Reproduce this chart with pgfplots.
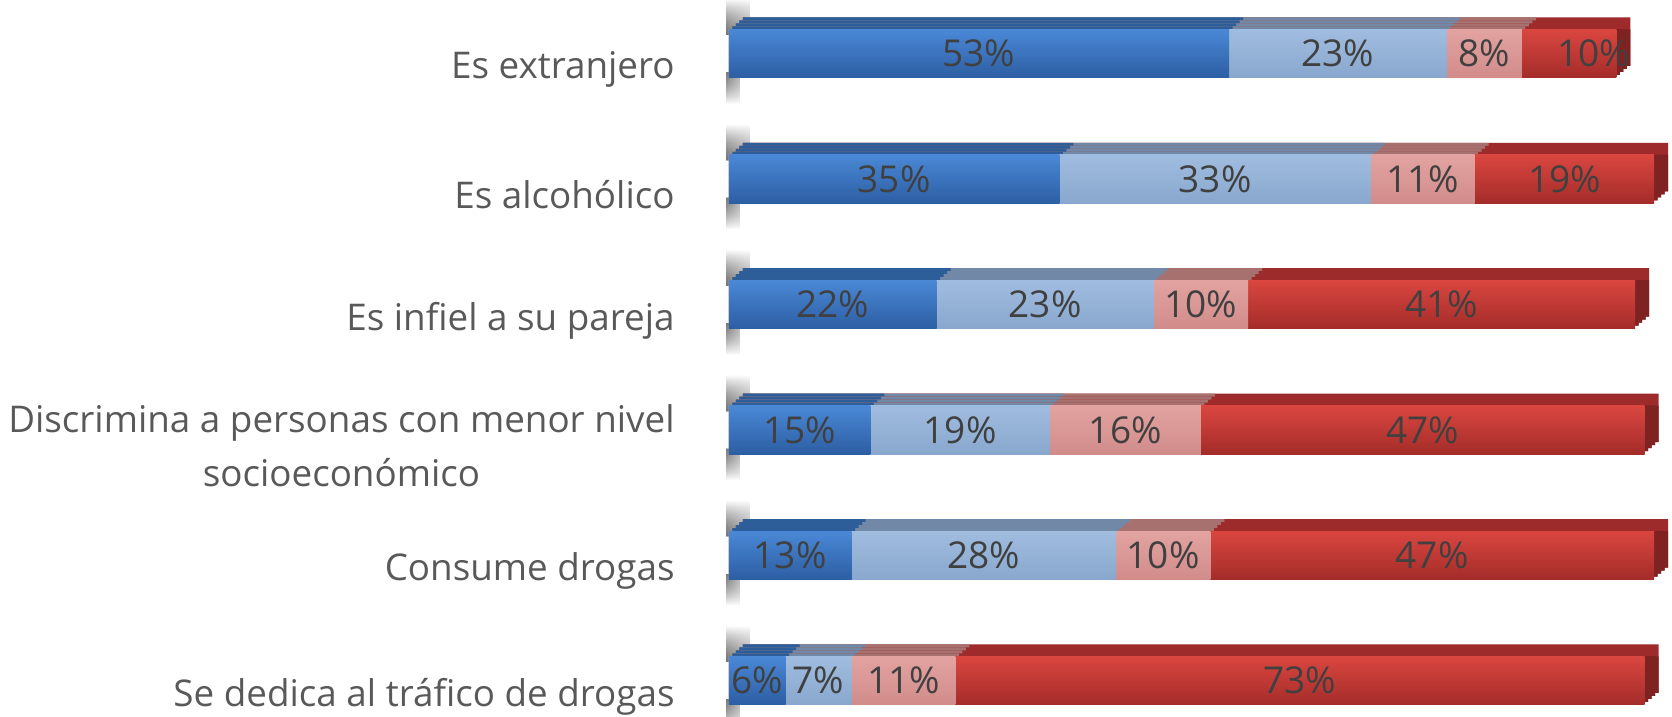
\documentclass[border=0pt]{standalone}
\usepackage{pgfplots}
\pgfplotsset{compat=1.18}
\usepackage{pgfplotstable}
\usepackage{fontspec}
\setmainfont{Open Sans}
\usetikzlibrary{fadings}
\definecolor{dbT}{HTML}{4A88D6}
\definecolor{dbB}{HTML}{2C5EA3}
\definecolor{dbTop}{HTML}{2E5E99}
\definecolor{lbT}{HTML}{A0BDE0}
\definecolor{lbB}{HTML}{89A7CD}
\definecolor{lbTop}{HTML}{7189A6}
\definecolor{pkT}{HTML}{E2A3A1}
\definecolor{pkB}{HTML}{D18C8A}
\definecolor{pkTop}{HTML}{A6716F}
\definecolor{rdT}{HTML}{DA4640}
\definecolor{rdB}{HTML}{A42C29}
\definecolor{rdTop}{HTML}{9E2B2B}
\definecolor{rdSide}{HTML}{7E2222}
\definecolor{lbl}{HTML}{404040}
\definecolor{cat}{HTML}{595959}

\pgfplotstableread{
y a b c d
0 53 23 8 10
1 35 33 11 19
2 22 23 10 41
3 15 19 16 47
4 13 28 10 47
5 6 7 11 73
}\data

\begin{document}
\begin{tikzpicture}
\begin{axis}[
  scale only axis, width=836pt, height=358pt,
  xmin=-77.2, xmax=99.9, ymin=-0.428, ymax=5.282, y dir=reverse,
  axis line style={draw=none}, tick style={draw=none},
  xtick=\empty, ytick={0,1,2,3,4,5},
  yticklabels={Es extranjero, Es alcohólico, Es infiel a su pareja, {Discrimina a personas con menor nivel\\socioeconómico}, Consume drogas, Se dedica al tráfico de drogas},
  yticklabel style={anchor=east, inner sep=0pt, xshift=337.5pt, yshift=-8pt, align=center, font=\fontsize{18.4}{27}\selectfont, text=cat},
  clip=false,
  front/.style={xbar, bar shift=0pt, bar width=24.25pt, draw=none},
  onerow/.style={x filter/.expression={\coordindex==#1 ? x : nan}},
]
% wall shadows
\pgfplotsinvokeforeach{0,1,2,3,4,5}{
  \fill[left color=black!55, right color=white, opacity=0.55, path fading=north] (axis cs:-0.3,#1-0.44) rectangle (axis cs:2.2,#1-0.15);
  \fill[left color=black!55, right color=white, opacity=0.5, path fading=south] (axis cs:-0.3,#1+0.15) rectangle (axis cs:1.2,#1+0.40);
}
% depth (top faces)
\pgfplotsinvokeforeach{1,0.75,0.5,0.25}{
  \addplot[front, fill=rdTop, xshift=#1*7pt, yshift=#1*6pt]
    table[x expr=\thisrow{a}+\thisrow{b}+\thisrow{c}+\thisrow{d}, y=y]{\data};
  \addplot[front, fill=pkTop, xshift=#1*7pt, yshift=#1*6pt]
    table[x expr=\thisrow{a}+\thisrow{b}+\thisrow{c}, y=y]{\data};
  \addplot[front, fill=lbTop, xshift=#1*7pt, yshift=#1*6pt]
    table[x expr=\thisrow{a}+\thisrow{b}, y=y]{\data};
  \addplot[front, fill=dbTop, xshift=#1*7pt, yshift=#1*6pt]
    table[x expr=\thisrow{a}, y=y]{\data};
}
% right side faces of the last segment
\pgfplotsinvokeforeach{1,0.75,0.5,0.25}{
  \addplot[xbar, bar shift=0pt, bar width=24.25pt-#1*6pt, draw=none, fill=rdSide, xshift=#1*7pt, yshift=#1*3pt]
    table[x expr=\thisrow{a}+\thisrow{b}+\thisrow{c}+\thisrow{d}, y=y]{\data};
}
% front faces, one row at a time so each bar gets its own shading
\pgfplotsinvokeforeach{0,1,2,3,4,5}{
  \addplot[front, top color=rdT, bottom color=rdB, onerow=#1]
    table[x expr=\thisrow{a}+\thisrow{b}+\thisrow{c}+\thisrow{d}, y=y]{\data};
  \addplot[front, top color=pkT, bottom color=pkB, onerow=#1]
    table[x expr=\thisrow{a}+\thisrow{b}+\thisrow{c}, y=y]{\data};
  \addplot[front, top color=lbT, bottom color=lbB, onerow=#1]
    table[x expr=\thisrow{a}+\thisrow{b}, y=y]{\data};
  \addplot[front, top color=dbT, bottom color=dbB, onerow=#1]
    table[x expr=\thisrow{a}, y=y]{\data};
}
% value labels
\pgfplotsset{lbls/.style={draw=none, mark=none, point meta=explicit symbolic,
  nodes near coords={\pgfplotspointmeta\%},
  every node near coord/.append style={anchor=center, inner sep=0pt, font=\fontsize{18.5}{20}\selectfont, text=lbl}}}
\addplot[lbls] table[x expr=\thisrow{a}/2, y=y, meta=a]{\data};
\addplot[lbls] table[x expr=\thisrow{a}+\thisrow{b}/2, y=y, meta=b]{\data};
\addplot[lbls] table[x expr=\thisrow{a}+\thisrow{b}+\thisrow{c}/2, y=y, meta=c]{\data};
\addplot[lbls] table[x expr=\thisrow{a}+\thisrow{b}+\thisrow{c}+\thisrow{d}/2+(\thisrow{y}<0.5)*2.6, y=y, meta=d]{\data};
\end{axis}
\pgfresetboundingbox
\path[use as bounding box] (current axis.south west) rectangle (current axis.north east);
\end{tikzpicture}
\end{document}
